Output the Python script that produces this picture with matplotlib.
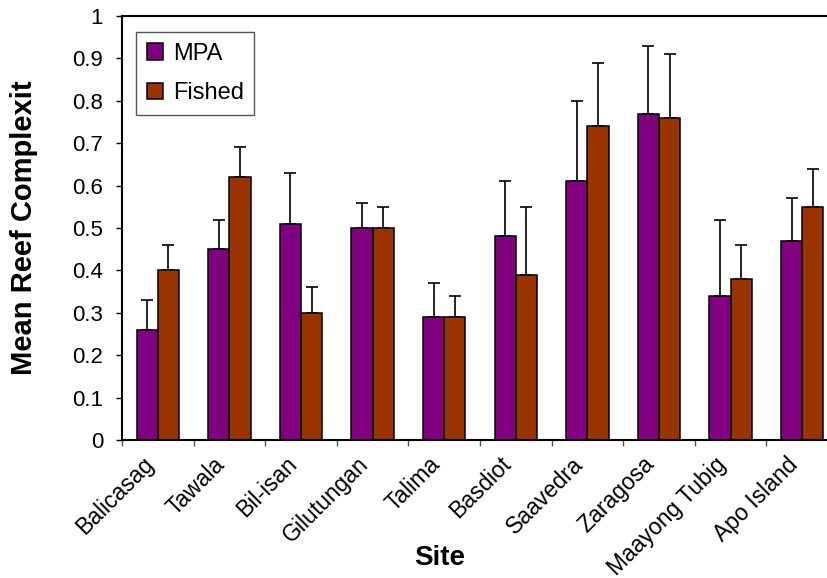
import numpy as np
import matplotlib
matplotlib.use("Agg")
import matplotlib.pyplot as plt
import matplotlib.transforms as mtransforms
from matplotlib.ticker import FixedLocator, FuncFormatter

plt.rcParams['font.family'] = ['Liberation Sans', 'DejaVu Sans']

sites = ["Balicasag", "Tawala", "Bil-isan", "Gilutungan", "Talima",
         "Basdiot", "Saavedra", "Zaragosa", "Maayong Tubig", "Apo Island"]
mpa = [0.26, 0.45, 0.51, 0.50, 0.29, 0.48, 0.61, 0.77, 0.34, 0.47]
fished = [0.40, 0.62, 0.30, 0.50, 0.29, 0.39, 0.74, 0.76, 0.38, 0.55]
# upper ends of the error bars
mpa_top = [0.33, 0.52, 0.63, 0.56, 0.37, 0.61, 0.80, 0.93, 0.52, 0.57]
fished_top = [0.46, 0.69, 0.36, 0.55, 0.34, 0.55, 0.89, 0.91, 0.46, 0.64]

mpa_err = np.array(mpa_top) - np.array(mpa)
fished_err = np.array(fished_top) - np.array(fished)

fig = plt.figure(figsize=(8.28, 5.78), dpi=100)
# axes runs a little past the right edge, as in the reference
ax = fig.add_axes([122 / 828, 138 / 578, 716 / 828, 424 / 578])

x = np.arange(len(sites))
w = 0.295
ax.bar(x - w / 2, mpa, w, color='#800080', edgecolor='black', linewidth=1.1,
       label='MPA', zorder=2)
ax.bar(x + w / 2, fished, w, color='#993300', edgecolor='black', linewidth=1.1,
       label='Fished', zorder=2)
ax.errorbar(x - w / 2, mpa, yerr=[np.zeros(len(x)), mpa_err], fmt='none',
            ecolor='black', elinewidth=1.2, capsize=4.5, capthick=1.2, zorder=1)
ax.errorbar(x + w / 2, fished, yerr=[np.zeros(len(x)), fished_err], fmt='none',
            ecolor='black', elinewidth=1.2, capsize=4.5, capthick=1.2, zorder=1)

ax.set_xlim(-0.5, len(sites) - 0.5)
ax.set_ylim(0, 1)
ax.set_yticks(np.arange(0, 1.01, 0.1))
ax.yaxis.set_major_formatter(FuncFormatter(lambda v, p: f"{v:g}"))
ax.tick_params(axis='y', direction='out', length=4.5, width=1, pad=9,
               labelsize=16)

# tick marks between groups, labels at group centres
ax.xaxis.set_major_locator(FixedLocator(np.arange(-0.5, len(sites), 1.0)))
ax.xaxis.set_major_formatter(FuncFormatter(lambda v, p: ""))
ax.xaxis.set_minor_locator(FixedLocator(x))
ax.set_xticklabels(sites, minor=True, rotation=45, ha='right', va='center',
                   rotation_mode='anchor', fontsize=16.5)
ax.tick_params(axis='x', which='major', direction='out', length=4.5,
               width=1, color='#555555')
ax.tick_params(axis='x', which='minor', length=0, pad=15)
shift = mtransforms.ScaledTranslation(-8 / 100, 0, fig.dpi_scale_trans)
for lab in ax.xaxis.get_minorticklabels():
    lab.set_transform(lab.get_transform() + shift)

for s in ['left', 'bottom', 'top']:
    ax.spines[s].set_linewidth(1.5)
ax.spines['right'].set_visible(False)

ax.set_ylabel("Mean Reef Complexit", fontsize=21, fontweight='bold')
ax.yaxis.set_label_coords(-0.137, 0.5)
ax.yaxis.label.set_va('center')
ax.set_xlabel("Site", fontsize=20, fontweight='bold')
ax.xaxis.set_label_coords(0.444, -0.278)
ax.xaxis.label.set_va('center')

leg = ax.legend(loc='upper left', bbox_to_anchor=(0.0196, 0.962),
                borderaxespad=0, fontsize=17, fancybox=False,
                edgecolor='#555555', handlelength=0.7, handleheight=0.7,
                handletextpad=0.4, labelspacing=0.75, borderpad=0.45,
                framealpha=1)
leg.get_frame().set_linewidth(1)

fig.savefig("out.png", dpi=100)
